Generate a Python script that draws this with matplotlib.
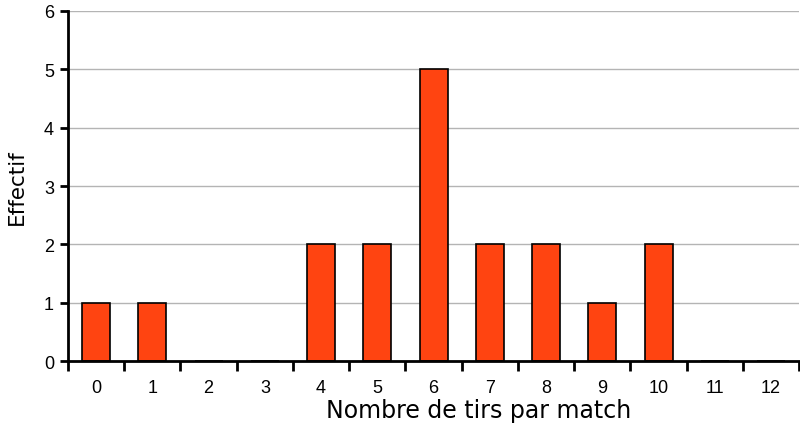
import numpy as np
import matplotlib
matplotlib.use('Agg')
import matplotlib.pyplot as plt

# données
tirs = list(range(13))
effectif = [1, 1, 0, 0, 2, 2, 5, 2, 2, 1, 2, 0, 0]
yticks = [0, 1, 2, 3, 4, 5, 6]

fig = plt.figure(figsize=(8, 4.27), dpi=100)
ax = fig.add_axes([0.085, 0.152, 0.914, 0.82])

ax.bar(tirs, effectif, width=0.5, color='#FF4411', edgecolor='black', linewidth=1.2, zorder=3)

ax.set_xlim(-0.5, 12.5)
ax.set_ylim(0, 6)
ax.set_yticks(yticks)
ax.set_xticks(tirs)
ax.set_xticks(np.arange(-0.5, 13, 1), minor=True)
ax.tick_params(axis='x', which='major', length=0, pad=13, labelsize=13,
               labelfontfamily='Liberation Sans')
ax.tick_params(axis='x', which='minor', length=7, width=2, direction='out')
ax.tick_params(axis='y', length=6, width=2, direction='out', labelsize=13, pad=4,
               labelfontfamily='Liberation Sans')

ax.grid(True, axis='y', color='#b4b4b4', linewidth=1, zorder=0)
ax.set_axisbelow(True)

for s in ['top', 'right']:
    ax.spines[s].set_visible(False)
for s in ['left', 'bottom']:
    ax.spines[s].set_linewidth(2)
    ax.spines[s].set_zorder(4)

ax.set_xlabel('Nombre de tirs par match', fontsize=17, labelpad=3)
ax.xaxis.set_label_coords(0.562, -0.105)
ax.set_ylabel('Effectif', fontsize=15.5, labelpad=12)

fig.savefig('out.png', dpi=100)
